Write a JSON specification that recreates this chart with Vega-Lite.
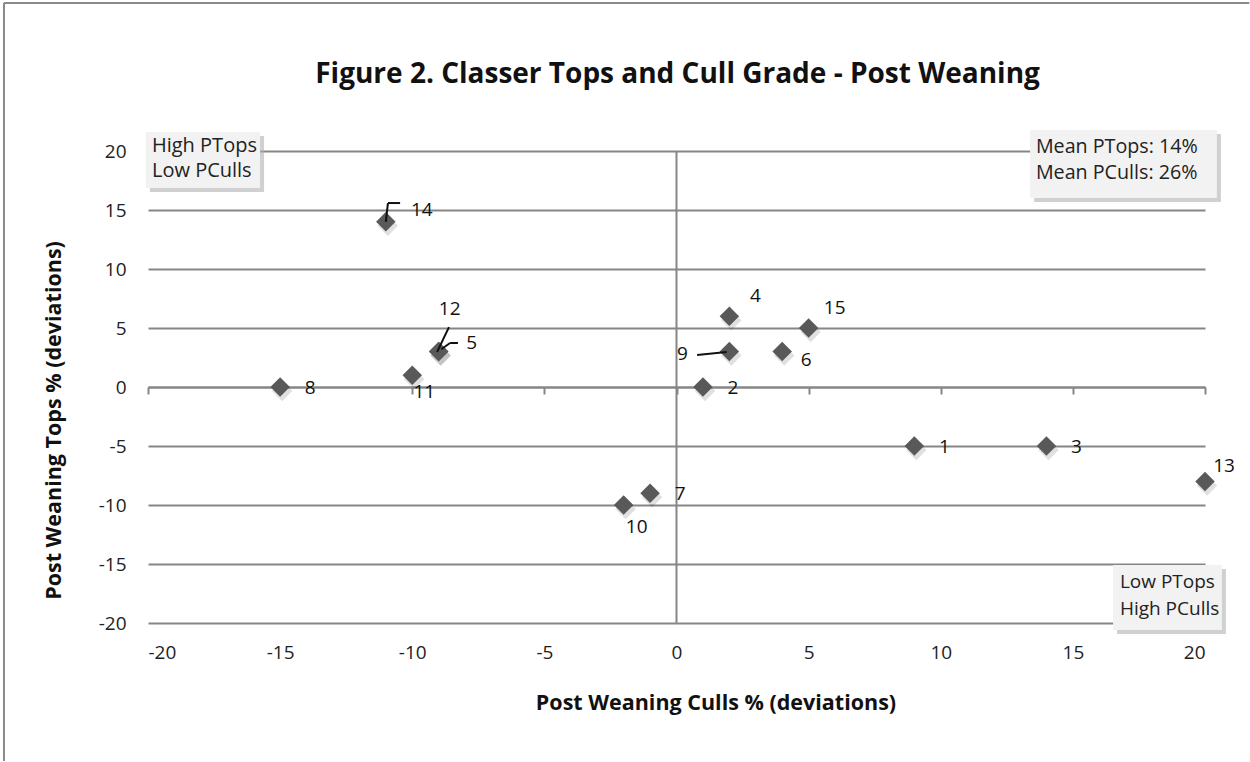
{
  "$schema": "https://vega.github.io/schema/vega-lite/v6.json",
  "width": 1057,
  "height": 472,
  "autosize": {"type": "none"},
  "padding": {"left": 148, "top": 151, "right": 45, "bottom": 139},
  "background": "white",
  "config": {"view": {"stroke": null}, "font": "Open Sans"},
  "datasets": {
    "pts": [
      {"id": "1", "culls": 9, "tops": -5},
      {"id": "2", "culls": 1, "tops": 0},
      {"id": "3", "culls": 14, "tops": -5},
      {"id": "4", "culls": 2, "tops": 6},
      {"id": "5", "culls": -9, "tops": 3},
      {"id": "6", "culls": 4, "tops": 3},
      {"id": "7", "culls": -1, "tops": -9},
      {"id": "8", "culls": -15, "tops": 0},
      {"id": "9", "culls": 2, "tops": 3},
      {"id": "10", "culls": -2, "tops": -10},
      {"id": "11", "culls": -10, "tops": 1},
      {"id": "12", "culls": -9, "tops": 3},
      {"id": "13", "culls": 20, "tops": -8},
      {"id": "14", "culls": -11, "tops": 14},
      {"id": "15", "culls": 5, "tops": 5}
    ],
    "one": [{}]
  },
  "layer": [
    {
      "data": {"name": "pts"},
      "mark": {"type": "point", "shape": "diamond", "filled": true, "size": 420, "color": "#000000", "opacity": 0.12, "xOffset": 2, "yOffset": 4},
      "encoding": {
        "x": {
          "field": "culls", "type": "quantitative",
          "scale": {"domain": [-20, 20], "nice": false, "zero": false},
          "axis": {
            "title": "Post Weaning Culls % (deviations)",
            "values": [-20, -15, -10, -5, 0, 5, 10, 15, 20],
            "labelExpr": "'' + datum.value",
            "grid": false,
            "offset": -236,
            "domain": true, "domainColor": "#868686", "domainWidth": 2,
            "ticks": true, "tickSize": 7, "tickColor": "#868686", "tickWidth": 2,
            "labelPadding": 249,
            "labelFont": "Open Sans", "labelFontSize": 19, "labelColor": "#222222",
            "titleFont": "Open Sans", "titleFontSize": 21.5, "titleFontWeight": "bold", "titleColor": "#111111",
            "titleX": 567.5, "titleY": 316, "titleBaseline": "middle", "titleAlign": "center"
          }
        },
        "y": {
          "field": "tops", "type": "quantitative",
          "scale": {"domain": [-20, 20], "nice": false, "zero": false},
          "axis": {
            "title": "Post Weaning Tops % (deviations)",
            "values": [-20, -15, -10, -5, 0, 5, 10, 15, 20],
            "labelExpr": "'' + datum.value",
            "grid": true, "gridColor": "#868686", "gridWidth": 2,
            "domain": false, "ticks": false, "tickSize": 0,
            "labelPadding": 22,
            "labelFont": "Open Sans", "labelFontSize": 19, "labelColor": "#222222",
            "titleFont": "Open Sans", "titleFontSize": 21.5, "titleFontWeight": "bold", "titleColor": "#111111",
            "titleX": -94, "titleY": 269, "titleBaseline": "middle", "titleAlign": "center", "titleAngle": 270
          }
        }
      }
    },
    {
      "data": {"name": "pts"},
      "mark": {"type": "point", "shape": "diamond", "filled": true, "size": 380, "color": "#595959", "opacity": 1},
      "encoding": {"x": {"field": "culls", "type": "quantitative"}, "y": {"field": "tops", "type": "quantitative"}}
    },
    {
      "data": {"name": "one"},
      "mark": {"type": "rule", "color": "#868686", "strokeWidth": 2},
      "encoding": {"x": {"datum": 0}}
    },
    {
      "data": {"name": "one"},
      "mark": {"type": "rule", "color": "#898989", "strokeWidth": 2, "clip": false},
      "encoding": {"x": {"datum": -25.45}, "y": {"datum": 32.54}, "y2": {"datum": -31.7}}
    },
    {
      "data": {"name": "one"},
      "mark": {"type": "rule", "color": "#898989", "strokeWidth": 2, "clip": false},
      "encoding": {"x": {"datum": -25.45}, "x2": {"datum": 21.68}, "y": {"datum": 32.54}}
    },
    {
      "data": {"name": "one"},
      "mark": {"type": "text", "text": "Figure 2. Classer Tops and Cull Grade - Post Weaning", "font": "Open Sans", "fontSize": 28, "fontWeight": "bold", "color": "#111111", "align": "center", "baseline": "alphabetic", "clip": false},
      "encoding": {"x": {"datum": 0.04}, "y": {"datum": 25.76}}
    },
    {
      "data": {"name": "one"},
      "mark": {"type": "rule", "color": "#111111", "strokeWidth": 2, "clip": false},
      "encoding": {"x": {"datum": -11.0}, "y": {"datum": 14.0}, "x2": {"datum": -10.92}, "y2": {"datum": 15.59}}
    },
    {
      "data": {"name": "one"},
      "mark": {"type": "rule", "color": "#111111", "strokeWidth": 2, "clip": false},
      "encoding": {"x": {"datum": -10.92}, "y": {"datum": 15.59}, "x2": {"datum": -10.46}, "y2": {"datum": 15.59}}
    },
    {
      "data": {"name": "one"},
      "mark": {"type": "rule", "color": "#111111", "strokeWidth": 2, "clip": false},
      "encoding": {"x": {"datum": -9.06}, "y": {"datum": 2.97}, "x2": {"datum": -8.61}, "y2": {"datum": 5.08}}
    },
    {
      "data": {"name": "one"},
      "mark": {"type": "rule", "color": "#111111", "strokeWidth": 2, "clip": false},
      "encoding": {"x": {"datum": -8.9}, "y": {"datum": 3.2}, "x2": {"datum": -8.57}, "y2": {"datum": 3.73}}
    },
    {
      "data": {"name": "one"},
      "mark": {"type": "rule", "color": "#111111", "strokeWidth": 2, "clip": false},
      "encoding": {"x": {"datum": -8.57}, "y": {"datum": 3.73}, "x2": {"datum": -8.27}, "y2": {"datum": 3.73}}
    },
    {
      "data": {"name": "one"},
      "mark": {"type": "rule", "color": "#111111", "strokeWidth": 2, "clip": false},
      "encoding": {"x": {"datum": 0.78}, "y": {"datum": 2.71}, "x2": {"datum": 1.9}, "y2": {"datum": 2.97}}
    },
    {
      "data": {"name": "pts"},
      "transform": [{"filter": {"field": "id", "oneOf": ["8", "2", "1", "3", "7"]}}],
      "mark": {"type": "text", "fontSize": 19, "color": "#111111", "align": "center", "baseline": "middle", "dx": 30, "dy": 1},
      "encoding": {"x": {"field": "culls", "type": "quantitative"}, "y": {"field": "tops", "type": "quantitative"}, "text": {"field": "id"}}
    },
    {
      "data": {"name": "pts"},
      "transform": [{"filter": {"field": "id", "oneOf": ["5"]}}],
      "mark": {"type": "text", "fontSize": 19, "color": "#111111", "align": "center", "baseline": "middle", "dx": 33, "dy": -9},
      "encoding": {"x": {"field": "culls", "type": "quantitative"}, "y": {"field": "tops", "type": "quantitative"}, "text": {"field": "id"}}
    },
    {
      "data": {"name": "pts"},
      "transform": [{"filter": {"field": "id", "oneOf": ["14"]}}],
      "mark": {"type": "text", "fontSize": 19, "color": "#111111", "align": "center", "baseline": "middle", "dx": 36, "dy": -12},
      "encoding": {"x": {"field": "culls", "type": "quantitative"}, "y": {"field": "tops", "type": "quantitative"}, "text": {"field": "id"}}
    },
    {
      "data": {"name": "pts"},
      "transform": [{"filter": {"field": "id", "oneOf": ["11"]}}],
      "mark": {"type": "text", "fontSize": 19, "color": "#111111", "align": "center", "baseline": "middle", "dx": 12, "dy": 17},
      "encoding": {"x": {"field": "culls", "type": "quantitative"}, "y": {"field": "tops", "type": "quantitative"}, "text": {"field": "id"}}
    },
    {
      "data": {"name": "pts"},
      "transform": [{"filter": {"field": "id", "oneOf": ["12"]}}],
      "mark": {"type": "text", "fontSize": 19, "color": "#111111", "align": "center", "baseline": "middle", "dx": 11, "dy": -43},
      "encoding": {"x": {"field": "culls", "type": "quantitative"}, "y": {"field": "tops", "type": "quantitative"}, "text": {"field": "id"}}
    },
    {
      "data": {"name": "pts"},
      "transform": [{"filter": {"field": "id", "oneOf": ["4", "15"]}}],
      "mark": {"type": "text", "fontSize": 19, "color": "#111111", "align": "center", "baseline": "middle", "dx": 26, "dy": -20},
      "encoding": {"x": {"field": "culls", "type": "quantitative"}, "y": {"field": "tops", "type": "quantitative"}, "text": {"field": "id"}}
    },
    {
      "data": {"name": "pts"},
      "transform": [{"filter": {"field": "id", "oneOf": ["9"]}}],
      "mark": {"type": "text", "fontSize": 19, "color": "#111111", "align": "center", "baseline": "middle", "dx": -47, "dy": 2},
      "encoding": {"x": {"field": "culls", "type": "quantitative"}, "y": {"field": "tops", "type": "quantitative"}, "text": {"field": "id"}}
    },
    {
      "data": {"name": "pts"},
      "transform": [{"filter": {"field": "id", "oneOf": ["6"]}}],
      "mark": {"type": "text", "fontSize": 19, "color": "#111111", "align": "center", "baseline": "middle", "dx": 24, "dy": 8},
      "encoding": {"x": {"field": "culls", "type": "quantitative"}, "y": {"field": "tops", "type": "quantitative"}, "text": {"field": "id"}}
    },
    {
      "data": {"name": "pts"},
      "transform": [{"filter": {"field": "id", "oneOf": ["13"]}}],
      "mark": {"type": "text", "fontSize": 19, "color": "#111111", "align": "center", "baseline": "middle", "dx": 19, "dy": -15},
      "encoding": {"x": {"field": "culls", "type": "quantitative"}, "y": {"field": "tops", "type": "quantitative"}, "text": {"field": "id"}}
    },
    {
      "data": {"name": "pts"},
      "transform": [{"filter": {"field": "id", "oneOf": ["10"]}}],
      "mark": {"type": "text", "fontSize": 19, "color": "#111111", "align": "center", "baseline": "middle", "dx": 13, "dy": 22},
      "encoding": {"x": {"field": "culls", "type": "quantitative"}, "y": {"field": "tops", "type": "quantitative"}, "text": {"field": "id"}}
    },
    {
      "data": {"name": "one"},
      "mark": {"type": "rect", "fill": "#b0b0b0", "opacity": 0.6, "xOffset": 4, "x2Offset": 4, "yOffset": 4, "y2Offset": 4, "clip": false},
      "encoding": {"x": {"datum": -20.08}, "x2": {"datum": -15.76}, "y": {"datum": 21.61}, "y2": {"datum": 16.86}}
    },
    {
      "data": {"name": "one"},
      "mark": {"type": "rect", "fill": "#f2f2f2", "clip": false},
      "encoding": {"x": {"datum": -20.08}, "x2": {"datum": -15.76}, "y": {"datum": 21.61}, "y2": {"datum": 16.86}}
    },
    {
      "data": {"values": [{"t": "High PTops\nLow PCulls"}]},
      "mark": {"type": "text", "fontSize": 20, "color": "#222222", "align": "left", "baseline": "middle", "lineBreak": "\n", "lineHeight": 25, "clip": false},
      "encoding": {"x": {"datum": -19.85}, "y": {"datum": 20.42}, "text": {"field": "t"}}
    },
    {
      "data": {"name": "one"},
      "mark": {"type": "rect", "fill": "#b0b0b0", "opacity": 0.6, "xOffset": 4, "x2Offset": 4, "yOffset": 4, "y2Offset": 4, "clip": false},
      "encoding": {"x": {"datum": 13.38}, "x2": {"datum": 20.45}, "y": {"datum": 21.78}, "y2": {"datum": 16.02}}
    },
    {
      "data": {"name": "one"},
      "mark": {"type": "rect", "fill": "#f2f2f2", "clip": false},
      "encoding": {"x": {"datum": 13.38}, "x2": {"datum": 20.45}, "y": {"datum": 21.78}, "y2": {"datum": 16.02}}
    },
    {
      "data": {"values": [{"t": "Mean PTops: 14%\nMean PCulls: 26%"}]},
      "mark": {"type": "text", "fontSize": 19.7, "color": "#222222", "align": "left", "baseline": "middle", "lineBreak": "\n", "lineHeight": 26, "clip": false},
      "encoding": {"x": {"datum": 13.6}, "y": {"datum": 20.34}, "text": {"field": "t"}}
    },
    {
      "data": {"name": "one"},
      "mark": {"type": "rect", "fill": "#b0b0b0", "opacity": 0.6, "xOffset": 4, "x2Offset": 4, "yOffset": 4, "y2Offset": 4, "clip": false},
      "encoding": {"x": {"datum": 16.52}, "x2": {"datum": 20.64}, "y": {"datum": -15.08}, "y2": {"datum": -20.59}}
    },
    {
      "data": {"name": "one"},
      "mark": {"type": "rect", "fill": "#f2f2f2", "clip": false},
      "encoding": {"x": {"datum": 16.52}, "x2": {"datum": 20.64}, "y": {"datum": -15.08}, "y2": {"datum": -20.59}}
    },
    {
      "data": {"values": [{"t": "Low PTops\nHigh PCulls"}]},
      "mark": {"type": "text", "fontSize": 19, "color": "#222222", "align": "left", "baseline": "middle", "lineBreak": "\n", "lineHeight": 27, "clip": false},
      "encoding": {"x": {"datum": 16.78}, "y": {"datum": -16.53}, "text": {"field": "t"}}
    }
  ]
}
